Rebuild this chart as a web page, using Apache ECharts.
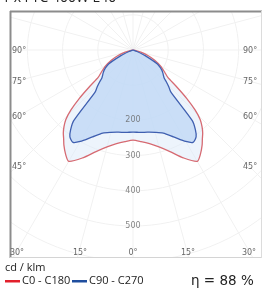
<!DOCTYPE html>
<html><head><meta charset="utf-8">
<script src="https://cdn.jsdelivr.net/npm/echarts@6/dist/echarts.min.js"></script>
<style>html,body{margin:0;padding:0;background:#fff}#c{width:265px;height:291px}</style>
</head><body><div id="c"></div>
<script>
// Photometric data (cd/klm) vs gamma angle (deg from nadir)
const gammaAngles = [0,5,10,15,20,25,30,33,36,38,40,42,44,46,48,50,52,55,60,65,70,75,80,85,90,180];
const c0c180  = [256,261,270,285,307,338,365,352,334,320,308,293,275,245,205,160,125,110,90,68,45,25,8,0,0,0];
const c90c270 = [233,235,237,242,251,272,300,313,305,288,262,161,147,133,119,113,108,100,80,38,12,3,0,0,0,0];
const radialTicks = [100,200,300,400,500,600,700];
const radialLabels = [200,300,400,500];
const rayAngles = [-180,-165,-150,-135,-120,-105,-90,-75,-60,-45,-30,-15,0,15,30,45,60,75,90,105,120,135,150,165];
const titleText = '1 x FTC 400W E40';
const unitText = 'cd / klm';
const seriesNames = ['C0 - C180','C90 - C270'];
const etaText = 'η = 88 %';
const leftAngleLabels = ['90°','75°','60°','45°'];
const bottomAngleLabels = ['30°','15°','0°','15°','30°'];

const rad = d => d*Math.PI/180;
function curvePoints(vals){
  const pts = [];
  for (let i = gammaAngles.length-1; i >= 0; i--) {
    const g = rad(gammaAngles[i]), r = vals[i];
    pts.push([-r*Math.sin(g), r*Math.cos(g)]);
  }
  for (let i = 1; i < gammaAngles.length; i++) {
    const g = rad(gammaAngles[i]), r = vals[i];
    pts.push([r*Math.sin(g), r*Math.cos(g)]);
  }
  return pts;
}
function circle(r){
  const pts=[];
  for(let a=0;a<=360;a+=3){pts.push([r*Math.sin(rad(a)), r*Math.cos(rad(a))]);}
  return pts;
}
const gridColor = '#f1f1f1';
const series = [];
radialTicks.forEach(r=>series.push({type:'line',data:circle(r),showSymbol:false,silent:true,
  lineStyle:{color:gridColor,width:1},z:1}));
rayAngles.forEach(a=>series.push({type:'line',data:[[0,0],[900*Math.sin(rad(a)),900*Math.cos(rad(a))]],
  showSymbol:false,silent:true,lineStyle:{color:gridColor,width:1},z:1}));

function polySeries(name, vals, fill, stroke, z){
  return {type:'custom',name:name,clip:true,z:z,data:[[0,0]],
    renderItem:function(params, api){
      const pts = curvePoints(vals).map(p=>api.coord(p));
      return {type:'polygon',shape:{points:pts,smooth:0.25},
        style:{fill:fill,stroke:stroke,lineWidth:1.3}};
    }};
}
series.push(polySeries(seriesNames[0], c0c180, 'rgba(220,233,249,0.5)', '#d66a72', 3));
series.push(polySeries(seriesNames[1], c90c270, 'rgba(190,215,246,0.75)', '#3f5fb0', 4));
series.push({type:'scatter',data:radialLabels.map(v=>[0,v]),symbolSize:1,
  itemStyle:{color:'rgba(0,0,0,0)'},z:6,
  label:{show:true,position:'inside',formatter:p=>String(p.value[1]),
    fontSize:8,color:'#666',fontFamily:'DejaVu Sans'}});

const chart = echarts.init(document.getElementById('c'),null,{renderer:'canvas'});
const lblStyle = {fontSize:8,fill:'#666',fontFamily:'DejaVu Sans'};
const leftY = [51,82,117,167];
const bottomX = [17,80,133,188,249];
const graphic = [
  {type:'text',x:2,y:5.5,z:20,style:{text:titleText,fontSize:14,fill:'#222',fontFamily:'Open Sans',verticalAlign:'bottom'}},
  {type:'line',shape:{x1:10,y1:11.5,x2:262,y2:11.5},style:{stroke:'#8c8c8c',lineWidth:2},z:10},
  {type:'line',shape:{x1:10.5,y1:11,x2:10.5,y2:258},style:{stroke:'#8c8c8c',lineWidth:2},z:10},
  {type:'line',shape:{x1:10,y1:257.5,x2:262,y2:257.5},style:{stroke:'#d4d4d4',lineWidth:1},z:10},
  {type:'line',shape:{x1:261.5,y1:11,x2:261.5,y2:258},style:{stroke:'#dcdcdc',lineWidth:1},z:10},
  {type:'text',x:5,y:268,style:{text:unitText,fontSize:11,fill:'#222',fontFamily:'Open Sans',verticalAlign:'middle'}},
  {type:'rect',shape:{x:5,y:280,width:15,height:2.5},style:{fill:'#e2202c'}},
  {type:'text',x:22,y:281,style:{text:seriesNames[0],fontSize:11,fill:'#222',fontFamily:'Open Sans',verticalAlign:'middle'}},
  {type:'rect',shape:{x:72,y:280,width:15,height:2.5},style:{fill:'#1f4e9e'}},
  {type:'text',x:89,y:281,style:{text:seriesNames[1],fontSize:11,fill:'#222',fontFamily:'Open Sans',verticalAlign:'middle'}},
  {type:'text',x:191,y:281,style:{text:etaText,fontSize:13.5,fill:'#222',fontFamily:'DejaVu Sans',verticalAlign:'middle'}}
];
leftAngleLabels.forEach((t,i)=>{
  graphic.push({type:'text',x:12,y:leftY[i],z:12,style:Object.assign({text:t,verticalAlign:'middle',align:'left'},lblStyle)});
  graphic.push({type:'text',x:243,y:leftY[i],z:12,style:Object.assign({text:t,verticalAlign:'middle',align:'left'},lblStyle)});
});
bottomAngleLabels.forEach((t,i)=>{
  graphic.push({type:'text',x:bottomX[i],y:253,z:12,style:Object.assign({text:t,verticalAlign:'middle',align:'center'},lblStyle)});
});

chart.setOption({
  animation:false,
  backgroundColor:'#fff',
  grid:{left:11,top:12,width:250,height:245,show:true,backgroundColor:'#fff',borderWidth:0},
  xAxis:{type:'value',min:-346.6,max:363.6,show:false,splitLine:{show:false}},
  yAxis:{type:'value',min:-108,max:588,inverse:true,show:false,splitLine:{show:false}},
  series:series,
  graphic:graphic
});
</script></body></html>
